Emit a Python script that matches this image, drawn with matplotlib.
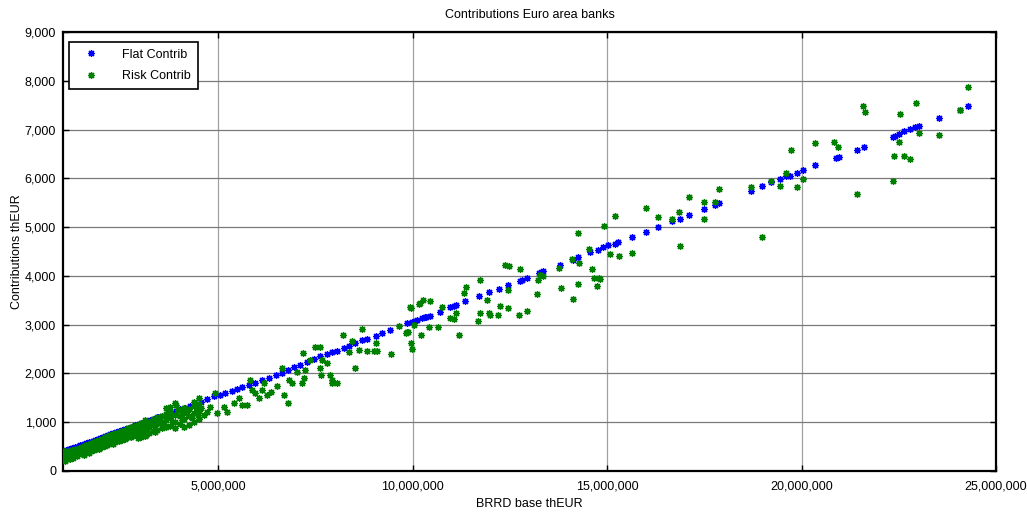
import numpy as np
import matplotlib
matplotlib.use("Agg")
from matplotlib import pyplot as plt
from matplotlib.ticker import FuncFormatter

# BRRD base in millions of thEUR, contributions in thEUR
flat_base = [
    1.02, 1.05, 1.08, 1.12, 1.15, 1.19, 1.23, 1.27, 1.31, 1.36, 1.40, 1.45,
    1.50, 1.55, 1.60, 1.66, 1.71, 1.77, 1.83, 1.89, 1.95, 2.02, 2.08, 2.15,
    2.22, 2.29, 2.36, 2.44, 2.52, 2.60, 2.68, 2.77, 2.86, 2.95, 3.04, 3.14,
    3.24, 3.34, 3.45, 3.56, 3.67, 3.78, 3.90, 4.02, 4.14, 4.26, 4.40,
    4.54, 4.71, 4.88, 5.05, 5.18, 5.35, 5.48, 5.61, 5.78, 5.95, 6.12, 6.30,
    6.47, 6.64, 6.78, 6.94, 7.11, 7.28, 7.45, 7.62, 7.79, 7.92, 8.05, 8.22,
    8.35, 8.52, 8.69, 8.82, 9.04, 9.21, 9.42, 9.85, 9.98, 10.05, 10.10,
    10.24, 10.30, 10.35, 10.43, 10.71, 10.96, 11.05, 11.11, 11.35, 11.71,
    11.95, 12.21, 12.44, 12.75, 12.80, 12.94, 13.24, 13.30, 13.36, 13.78,
    14.13, 14.26, 14.56, 14.76, 14.89, 15.03, 15.21, 15.29, 15.63, 16.00,
    16.31, 16.66, 16.86, 17.11, 17.48, 17.76, 17.88, 18.70, 18.98, 19.22,
    19.45, 19.61, 19.71, 19.87, 20.03, 20.35, 20.89, 20.95, 21.42, 21.61,
    22.34, 22.40, 22.51, 22.63, 22.79, 22.92, 23.02, 23.54, 24.07, 24.29,
]
flat_contrib = [
    404, 412, 421, 433, 441, 453, 464, 476, 487, 502, 513, 528,
    542, 556, 571, 588, 602, 620, 637, 654, 672, 692, 709, 729,
    749, 770, 790, 813, 836, 859, 882, 908, 934, 960, 986, 1014,
    1043, 1072, 1104, 1135, 1167, 1199, 1233, 1268, 1302, 1337, 1377,
    1420, 1480, 1530, 1560, 1600, 1650, 1680, 1720, 1770, 1810, 1870, 1910,
    1960, 2020, 2070, 2130, 2180, 2240, 2290, 2350, 2400, 2440, 2460, 2520,
    2570, 2620, 2680, 2710, 2770, 2830, 2900, 3030, 3060, 3080, 3090,
    3130, 3150, 3160, 3180, 3270, 3360, 3380, 3400, 3480, 3580,
    3670, 3730, 3820, 3900, 3920, 3960, 4060, 4080, 4100, 4220,
    4330, 4380, 4490, 4540, 4590, 4640, 4660, 4700, 4800, 4900,
    5000, 5120, 5170, 5250, 5370, 5450, 5500, 5750, 5850, 5930,
    5980, 6040, 6060, 6120, 6170, 6270, 6420, 6440, 6590, 6650,
    6860, 6870, 6920, 6970, 7010, 7060, 7080, 7230, 7410, 7480,
]

risk_base = [
    1.00, 1.00, 1.00, 1.03, 1.03, 1.03, 1.06, 1.06, 1.06, 1.10, 1.10, 1.10,
    1.14, 1.14, 1.14, 1.18, 1.18, 1.18, 1.22, 1.22, 1.22, 1.27, 1.27, 1.27,
    1.32, 1.32, 1.32, 1.37, 1.37, 1.37, 1.42, 1.42, 1.42, 1.48, 1.48, 1.48,
    1.54, 1.54, 1.54, 1.60, 1.60, 1.60, 1.66, 1.66, 1.66, 1.72, 1.72, 1.72,
    1.79, 1.79, 1.79, 1.86, 1.86, 1.86, 1.93, 1.93, 1.93, 2.00, 2.00, 2.00,
    2.07, 2.07, 2.07, 2.14, 2.14, 2.14, 2.21, 2.21, 2.21, 2.28, 2.28, 2.28,
    2.35, 2.35, 2.35, 2.43, 2.43, 2.43, 2.51, 2.51, 2.51, 2.59, 2.59, 2.59,
    2.67, 2.67, 2.67, 2.75, 2.75, 2.75, 2.84, 2.84, 2.84, 2.93, 2.93, 2.93,
    3.02, 3.02, 3.02, 3.02, 3.12, 3.12, 3.12, 3.12, 3.14, 3.22, 3.22, 3.22,
    3.32, 3.32, 3.32, 3.37, 3.43, 3.43, 3.43, 3.54, 3.54, 3.54, 3.54,
    3.65, 3.65, 3.65, 3.65, 3.76, 3.76, 3.76, 3.76, 3.88, 3.88, 3.88, 3.88,
    3.92, 4.00, 4.00, 4.00, 4.12, 4.12, 4.12, 4.12, 4.25, 4.25, 4.25,
    4.38, 4.38, 4.38, 4.38, 4.50, 4.50, 4.50, 4.50,
    1.01, 1.04, 1.08, 1.12, 1.16, 1.20, 1.25, 1.30, 1.35, 1.40, 1.45, 1.51,
    1.57, 1.63, 1.69, 1.75, 1.82, 1.89, 1.96, 2.04, 2.11, 2.18, 2.25, 2.32,
    2.39, 2.47, 2.55, 2.63, 2.71, 2.80, 2.89, 2.98, 3.07, 3.17, 3.27, 3.38,
    3.48, 3.60, 3.71, 3.82, 3.95, 4.06, 4.19, 4.31, 4.44, 4.47,
    4.54, 4.62, 4.71, 4.79, 4.92, 4.97, 5.14, 5.22, 5.39, 5.52, 5.61, 5.74,
    5.82, 5.87, 5.95, 6.04, 6.12, 6.16, 6.25, 6.34, 6.51, 6.64, 6.68, 6.78,
    6.81, 6.89, 7.02, 7.15, 7.19, 7.18, 7.22, 7.35, 7.48, 7.62, 7.67, 7.62,
    7.64, 7.79, 7.88, 7.92, 7.92, 8.05, 8.21, 8.35, 8.44, 8.52, 8.61, 8.69,
    8.82, 8.99, 9.04, 9.08, 9.44, 9.65, 9.83, 9.85, 9.88, 9.92, 9.95, 9.98,
    10.15, 9.94, 10.02, 10.22, 10.19, 10.26, 10.45, 10.41, 10.66, 10.75,
    10.96, 11.07, 11.11, 11.20, 11.32, 11.38, 11.68, 11.73, 11.72, 11.92,
    11.97, 11.99, 12.18, 12.23, 12.36, 12.48, 12.45, 12.44, 12.72, 12.76,
    12.94, 13.19, 13.22, 13.28, 13.36, 13.82, 13.77, 14.12, 14.09, 14.25,
    14.28, 14.25, 14.52, 14.61, 14.65, 14.78, 14.74, 14.82, 14.91, 15.06,
    15.21, 15.31, 15.63, 16.00, 16.31, 16.66, 16.84, 16.86, 17.11, 17.48,
    17.50, 17.76, 17.88, 18.70, 18.98, 19.22, 19.45, 19.61, 19.72, 19.87,
    20.03, 20.35, 20.84, 20.93, 21.42, 21.59, 21.63, 22.34, 22.38, 22.51,
    22.52, 22.64, 22.79, 22.93, 23.03, 23.54, 24.07, 24.29,
]
risk_contrib = [
    230, 300, 370, 260, 340, 410, 210, 290, 380, 250, 330, 420,
    280, 360, 300, 240, 390, 330, 300, 370, 430, 270, 350, 410,
    320, 400, 450, 300, 380, 460, 340, 420, 480, 360, 440, 500,
    330, 410, 490, 390, 470, 540, 370, 450, 530, 420, 500, 570,
    430, 520, 600, 460, 540, 620, 450, 560, 640, 500, 590, 660,
    520, 610, 690, 540, 630, 710, 570, 660, 730, 560, 680, 760,
    600, 700, 780, 620, 730, 800, 640, 750, 830, 660, 780, 850,
    690, 800, 880, 700, 830, 900, 730, 850, 930, 680, 800, 950,
    760, 880, 980, 700, 720, 840, 960, 1040, 740, 770, 900, 1010,
    820, 940, 1060, 800, 850, 980, 1100, 880, 1010, 1130, 950,
    900, 1050, 1170, 1290, 930, 1080, 1210, 1320, 880, 1000, 1150, 1390,
    1360, 960, 1120, 1250, 900, 1060, 1190, 1300, 950, 1130, 1280,
    1000, 1180, 1330, 1420, 1060, 1230, 1380, 1490,
    270, 380, 330, 290, 410, 280, 390, 360, 430, 380, 460, 400,
    520, 430, 560, 470, 570, 500, 610, 550, 660, 600, 710, 640,
    740, 680, 790, 720, 840, 760, 890, 830, 930, 880, 990, 920,
    1050, 960, 1110, 1000, 1250, 1050, 1220, 1080, 1300, 1150,
    1290, 1150, 1220, 1320, 1600, 1180, 1320, 1220, 1390, 1490, 1360, 1360,
    1870, 1660, 1600, 1490, 1660, 1800, 1560, 1630, 1750, 2110, 1560, 1390,
    1870, 1800, 2040, 1800, 1900, 2430, 2070, 2280, 2550, 2550, 2280, 2110,
    1970, 2210, 1970, 1870, 1800, 1800, 2790, 2450, 2660, 2110, 2480, 2920,
    2470, 2470, 2620, 2470, 2400, 2980, 2840, 2850, 2860, 3370, 2620, 2500,
    3430, 3340, 3000, 2790, 3440, 3510, 3490, 2960, 2960, 3370,
    3140, 3120, 3250, 2790, 3650, 3780, 3070, 3240, 3910, 3500,
    3240, 3200, 3190, 3390, 4230, 4200, 3340, 3720, 3190, 4150,
    3290, 3630, 3920, 4020, 4000, 3760, 4170, 3530, 4350, 4880,
    4260, 3830, 4550, 4150, 3960, 3960, 3800, 3940, 5020, 4450,
    5220, 4410, 4480, 5390, 5200, 5170, 5320, 4610, 5620, 5520,
    5170, 5520, 5790, 5820, 4800, 5940, 5840, 6110, 6580, 5820,
    5990, 6730, 6740, 6650, 5690, 7480, 7360, 5940, 6460, 6740,
    7330, 6460, 6390, 7540, 6930, 6890, 7400, 7880,
]

MILLION = 1e6
plt.rcParams['font.family'] = ['Liberation Sans', 'DejaVu Sans']

fig = plt.figure(figsize=(10.27, 5.19), dpi=100)
ax = fig.add_axes([0.0613, 0.0925, 0.9085, 0.8455])

marker_style = dict(linestyle='none', marker=(8, 2, 0), markersize=5, markeredgewidth=0.9)
ax.plot(np.array(flat_base) * MILLION, flat_contrib, color='#0000ff', label='Flat Contrib',
        zorder=3, **marker_style)
ax.plot(np.array(risk_base) * MILLION, risk_contrib, color='#008000', label='Risk Contrib',
        zorder=3, **marker_style)

ax.set_xlim(1e6, 25e6)
ax.set_ylim(0, 9000)
ax.set_xticks(np.arange(5, 26, 5) * MILLION)
ax.set_yticks(np.arange(0, 9001, 1000))
ax.xaxis.set_major_formatter(FuncFormatter(lambda v, p: f"{v:,.0f}"))
ax.yaxis.set_major_formatter(FuncFormatter(lambda v, p: f"{v:,.0f}"))

ax.grid(axis='y', color='#7a7a7a', linewidth=0.9)
ax.grid(axis='x', color='#a0a0a0', linewidth=0.9)
ax.set_axisbelow(True)
for s in ax.spines.values():
    s.set_linewidth(1.6)
ax.tick_params(direction='in', length=4, width=1, top=True, right=True,
               labelsize=9, pad=5)
ax.tick_params(axis='x', pad=7)

ax.set_title("Contributions Euro area banks", fontsize=9, pad=10)
ax.set_xlabel("BRRD base thEUR", fontsize=9, labelpad=4)
ax.set_ylabel("Contributions thEUR", fontsize=9)
ax.yaxis.set_label_coords(-0.043, 0.5)

leg = ax.legend(loc='upper left', bbox_to_anchor=(0.0064, 0.978), borderaxespad=0,
                fancybox=False, framealpha=1, edgecolor='black', fontsize=9,
                handletextpad=1.3, borderpad=0.55, labelspacing=0.75, handlelength=2.4)
leg.get_frame().set_linewidth(1.2)

fig.savefig("out.png", dpi=100)
